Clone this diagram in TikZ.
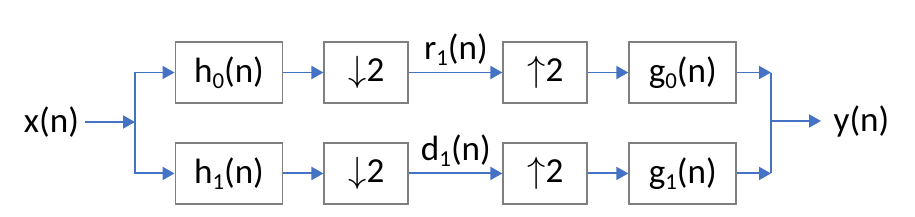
\documentclass[tikz,border=0pt]{standalone}
\usepackage{fontspec}
\setmainfont{Carlito}
\usetikzlibrary{positioning, arrows.meta}
\definecolor{lineblue}{HTML}{4472C4}
\definecolor{boxgray}{HTML}{7F7F7F}
\newcommand{\idx}[1]{\raisebox{-0.35ex}{\fontsize{13}{13}\selectfont #1}}

\begin{document}
\begin{tikzpicture}[
        font=\fontsize{20}{24}\selectfont,
        box/.style={draw=boxgray, line width=1.1pt, rectangle, align=center, minimum width=2.14cm, minimum height=1.22cm},
        rate/.style={box, minimum width=1.68cm},
        sig/.style={inner sep=3pt},
        arrow/.style={-{Triangle[length=0.24cm, width=0.26cm]}, draw=lineblue, line width=1.1pt},
        wire/.style={draw=lineblue, line width=1.1pt}
    ]
    \useasboundingbox (0,0) rectangle (18.3,-4.32);
    \node[box] (h0) at (4.58,-1.45) {h\idx{0}(n)};
    \node[rate, right=0.8cm of h0] (down0) {$\downarrow$2};
    \node[rate, right=1.86cm of down0] (up0) {$\uparrow$2};
    \node[box, right=0.8cm of up0] (g0) {g\idx{0}(n)};
    \node[box, below=0.76cm of h0] (h1) {h\idx{1}(n)};
    \node[rate, right=0.8cm of h1] (down1) {$\downarrow$2};
    \node[rate, right=1.86cm of down1] (up1) {$\uparrow$2};
    \node[box, right=0.8cm of up1] (g1) {g\idx{1}(n)};
    \node[sig] (xn) at (1.03,-2.44) {x(n)};
    \node[sig, inner sep=7pt] (yn) at (17.23,-2.42) {y(n)};
    \coordinate (split) at (2.7,-2.44);
    \coordinate (merge) at (15.42,-2.42);

    \draw[arrow] (xn) -- (split);
    \draw[arrow] (split) |- (h0);
    \draw[arrow] (split) |- (h1);
    \draw[arrow] (h0) -- (down0);
    \draw[arrow] (h1) -- (down1);
    \draw[arrow] (down0) -- node[above] {r\idx{1}(n)} (up0);
    \draw[arrow] (down1) -- node[above] {d\idx{1}(n)} (up1);
    \draw[arrow] (up0) -- (g0);
    \draw[arrow] (up1) -- (g1);
    \draw[arrow] (g0) -- (g0 -| merge);
    \draw[arrow] (g1) -- (g1 -| merge);
    \draw[wire] (g0 -| merge) -- (g1 -| merge);
    \draw[arrow] (merge) -- (yn);
\end{tikzpicture}
\end{document}
